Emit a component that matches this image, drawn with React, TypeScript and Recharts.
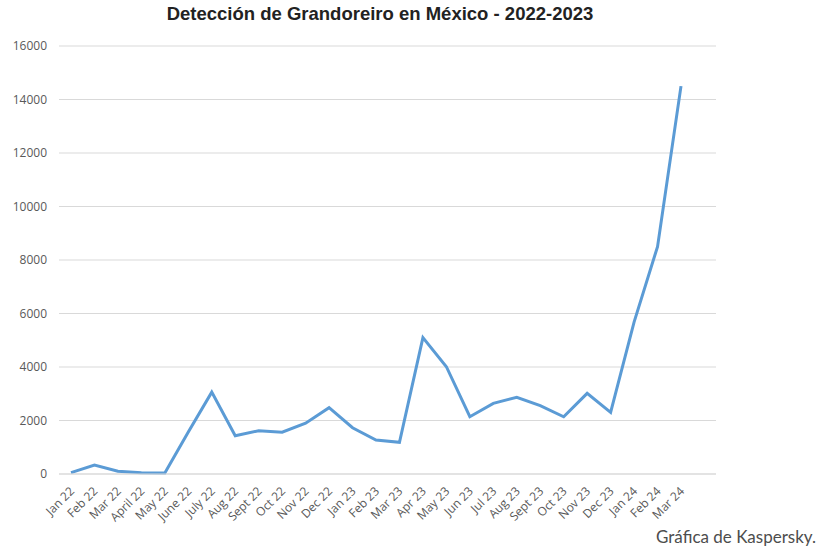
import { LineChart, Line, XAxis, YAxis, CartesianGrid } from "recharts";

const months = [
  "Jan 22", "Feb 22", "Mar 22", "April 22", "May 22", "June 22", "July 22",
  "Aug 22", "Sept 22", "Oct 22", "Nov 22", "Dec 22", "Jan 23", "Feb 23",
  "Mar 23", "Apr 23", "May 23", "Jun 23", "Jul 23", "Aug 23", "Sept 23",
  "Oct 23", "Nov 23", "Dec 23", "Jan 24", "Feb 24", "Mar 24",
];

const detections = [
  50, 330, 100, 50, 40, 1570, 3060, 1430, 1620, 1560, 1900, 2480, 1730, 1270,
  1185, 5100, 4010, 2140, 2640, 2870, 2555, 2140, 3015, 2305, 5680, 8500,
  14500,
];

const yTicks = [0, 2000, 4000, 6000, 8000, 10000, 12000, 14000, 16000];

const data = months.map((month, i) => ({ month, value: detections[i] }));

function MonthTick(props: any) {
  const { x, y, payload } = props;
  return (
    <g transform={`translate(${x + 4},${y + 10})`}>
      <text
        transform="rotate(-45)"
        textAnchor="end"
        fontSize={12}
        fill="#595959"
        fontFamily="'Open Sans', sans-serif"
      >
        {payload.value}
      </text>
    </g>
  );
}

export default function App() {
  return (
    <div
      style={{
        position: "absolute",
        left: 0,
        top: 0,
        width: 818,
        height: 548,
        background: "#fff",
      }}
    >
      <div
        style={{
          position: "absolute",
          left: 0,
          width: 760,
          top: 3,
          textAlign: "center",
          fontFamily: "'Liberation Sans', Arial, sans-serif",
          fontWeight: "bold",
          fontSize: 18.5,
          color: "#222",
        }}
      >
        Detección de Grandoreiro en México - 2022-2023
      </div>
      <LineChart
        width={818}
        height={548}
        data={data}
        margin={{ top: 46, right: 102, bottom: 0, left: 0 }}
      >
        <CartesianGrid vertical={false} stroke="#d9d9d9" strokeWidth={1.2} />
        <XAxis
          dataKey="month"
          interval={0}
          height={74}
          padding={{ left: 12, right: 35 }}
          tickLine={false}
          axisLine={{ stroke: "#d9d9d9", strokeWidth: 1.2 }}
          tick={<MonthTick />}
        />
        <YAxis
          width={59}
          domain={[0, 16000]}
          ticks={yTicks}
          tickLine={false}
          axisLine={false}
          tickSize={0}
          tickMargin={12}
          tick={{
            fontSize: 12,
            fill: "#595959",
            fontFamily: "'Open Sans', sans-serif",
          }}
        />
        <Line
          type="linear"
          dataKey="value"
          stroke="#5b9bd5"
          strokeWidth={3}
          dot={false}
          isAnimationActive={false}
        />
      </LineChart>
      <div
        style={{
          position: "absolute",
          right: 2,
          top: 526,
          fontFamily: "Lato, 'Noto Sans', sans-serif",
          fontSize: 17,
          color: "#4d4d4d",
        }}
      >
        Gráfica de Kaspersky.
      </div>
    </div>
  );
}
